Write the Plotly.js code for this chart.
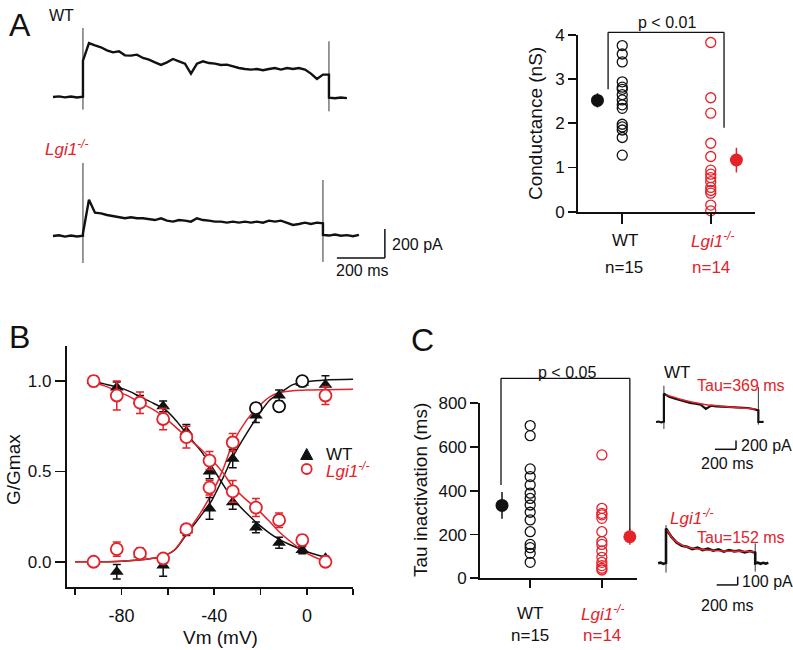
<!DOCTYPE html>
<html>
<head>
<meta charset="utf-8">
<script src="https://cdn.plot.ly/plotly-3.0.1.min.js"></script>
<style>
  html, body { margin: 0; padding: 0; background: #fff; }
  #chart { width: 793px; height: 650px; }
</style>
</head>
<body>
<div id="chart"></div>
<script>
// ---- Panel A: example currents (pA), response sampled every 25 ms ----
const aDt = 25;
const aWtOn = 179;
const aWtPre = [0, 4, -3, 3, -4, 2];
const aWtResp = [250, 372, 356, 343, 322, 308, 315, 287, 285, 292, 269, 257, 239, 221, 239, 262, 246, 230, 161, 230,
                 246, 234, 230, 221, 223, 211, 200, 193, 189, 193, 184, 193, 200, 189, 200, 193, 200, 189, 161, 124, 154, 154];
const aWtPost = [-5, -9, -4, -8];
const aWtSpikeOn = [-87, 476];
const aWtSpikeOff = [-99, 384];

const aKoOn = 179;
const aKoPre = [0, 5, -4, 3, -3, 2];
const aKoResp = [18, 250, 161, 156, 145, 138, 133, 122, 129, 122, 122, 117, 110, 122, 106, 99, 110, 106, 99, 122,
                 110, 106, 99, 99, 92, 99, 92, 99, 92, 99, 92, 106, 99, 106, 92, 76, 83, 92, 83, 92, 88];
const aKoPost = [8, 3, 10, 2, 6, -2, 8];
const aKoSpikeOn = [-186, 503];
const aKoSpikeOff = [-179, 386];

// ---- Panel A: conductance (nS) ----
const groups = ['WT', 'Lgi1'];
const condWT = [3.76, 3.57, 3.39, 2.94, 2.82, 2.77, 2.65, 2.53, 2.42, 2.34, 1.98, 1.92, 1.85, 1.68, 1.28];
const condKO = [3.83, 2.58, 2.23, 1.55, 1.25, 0.94, 0.85, 0.77, 0.68, 0.55, 0.48, 0.42, 0.15, 0.02];
const condMean = [2.52, 1.17];
const condSem = [0.16, 0.28];

// ---- Panel B: G/Gmax vs Vm ----
const vm = [-92, -82, -72, -62, -52, -42, -32, -22, -12, -2, 8];
const wtInact = [1.0, 0.965, 0.89, 0.86, 0.72, 0.50, 0.33, 0.19, 0.105, 0.065, 0.02];
const wtInactErr = [0.02, 0.03, 0.03, 0.03, 0.04, 0.04, 0.04, 0.03, 0.03, 0.02, 0.01];
const koInact = [1.0, 0.92, 0.88, 0.79, 0.69, 0.56, 0.39, 0.30, 0.23, 0.12, 0.0];
const koInactErr = [0.03, 0.08, 0.06, 0.06, 0.06, 0.05, 0.06, 0.05, 0.04, 0.03, 0.01];
const wtAct = [0.0, -0.055, 0.04, -0.02, 0.175, 0.295, 0.57, 0.81, 0.92, 0.99, 0.98];
const wtActErr = [0.01, 0.04, 0.02, 0.06, 0.03, 0.06, 0.05, 0.04, 0.03, 0.02, 0.05];
const koAct = [0.0, 0.07, 0.046, 0.018, 0.18, 0.41, 0.66, 0.85, 0.86, 1.0, 0.92];
const koActErr = [0.01, 0.04, 0.03, 0.02, 0.02, 0.04, 0.05, 0.03, 0.02, 0.02, 0.05];

const fitVmAct = [-100, -80, -63, -57, -52, -46, -41, -36, -32, -26, -21, -16, -12, -6, 0, 8, 20];
const wtActFit = [0, 0.003, 0.028, 0.065, 0.15, 0.25, 0.34, 0.47, 0.58, 0.71, 0.81, 0.895, 0.93, 0.98, 0.996, 1.006, 1.01];
const koActFit = [0, 0.003, 0.028, 0.068, 0.157, 0.268, 0.378, 0.517, 0.655, 0.784, 0.858, 0.913, 0.935, 0.946, 0.95, 0.952, 0.954];
const fitVmInact = [-94, -87, -81, -76, -72, -66, -61, -56, -52, -46, -41, -36, -32, -26, -21, -16, -12, -6, 0, 8];
const wtInactFit = [1.0, 0.983, 0.965, 0.94, 0.913, 0.876, 0.84, 0.775, 0.71, 0.618, 0.526, 0.424, 0.35, 0.268, 0.208, 0.157, 0.124, 0.087, 0.055, 0.024];
const koInactFit = [1.0, 0.972, 0.94, 0.91, 0.88, 0.84, 0.793, 0.738, 0.692, 0.627, 0.563, 0.489, 0.415, 0.341, 0.286, 0.221, 0.166, 0.101, 0.046, 0.0];

// ---- Panel C: tau of inactivation (ms) ----
const tauWT = [698, 652, 500, 465, 427, 389, 365, 335, 302, 267, 213, 155, 140, 114, 73];
const tauKO = [564, 320, 297, 290, 274, 213, 168, 155, 125, 96, 73, 58, 46, 38];
const tauMean = [333, 190];
const tauSem = [61, 37];

// ---- Panel C: example currents, response every 50 ms ----
const cDt = 50;
const cBaseDt = 25;
const cWtOn = 180;
const cWtPre = [0, 10, -10, 5];
const cWtResp = [651, 580, 540, 505, 470, 440, 421, 398, 300, 375, 360, 355, 345, 345, 337, 322, 322, 299, 268];
const cWtPost = [0, -5, 4];
const cWtSpikeOn = [-161, 835];
const cWtSpikeOff = [-61, 805];
const cWtFitT = [202, 329, 456, 583, 710, 837, 964, 1059];
const cWtFit = [628, 529, 452, 398, 368, 337, 314, 299];

const cKoOn = 200;
const cKoPre = [0, 8, -8, 4];
const cKoResp = [420, 320, 252, 212, 200, 172, 188, 160, 176, 152, 168, 140, 160, 144, 152, 132, 148, 128];
const cKoPost = [0, 8, -6, 5, -4, 6];
const cKoSpikeOn = [-112, 460];
const cKoSpikeOff = [-100, 240];
const cKoFitT = [213, 270, 365, 460, 587, 746, 905, 1040];
const cKoFit = [400, 288, 212, 180, 160, 148, 144, 140];

// ---------------------------------------------------------------
const W = 793, H = 650;
const RED = '#e4222a';
const BLK = '#111';
const FONT = 'Liberation Sans, Arial, sans-serif';

function dx(p0, p1) { return [p0 / W, p1 / W]; }
function dy(p0, p1) { return [1 - p1 / H, 1 - p0 / H]; }
function frac(v, r) { return (v - r[0]) / (r[1] - r[0]); }

// stitch baseline / response / baseline into one sweep
function sweep(tOn, dtResp, dtBase, pre, resp, post) {
  const x = [], y = [];
  pre.forEach((v, i) => { x.push(tOn - (pre.length - 1 - i) * dtBase); y.push(v); });
  resp.forEach((v, i) => { x.push(tOn + i * dtResp); y.push(v); });
  const tOff = tOn + (resp.length - 1) * dtResp;
  post.forEach((v, i) => { x.push(tOff + i * dtBase); y.push(v); });
  return { x, y, tOff };
}

const traces = [];
function addSweep(s, tOn, spOn, spOff, ax, width) {
  const xa = 'x' + ax, ya = 'y' + ax;
  traces.push({ x: [tOn, tOn], y: spOn, xaxis: xa, yaxis: ya, mode: 'lines', line: { color: '#333', width: 1 } });
  traces.push({ x: [s.tOff, s.tOff], y: spOff, xaxis: xa, yaxis: ya, mode: 'lines', line: { color: '#333', width: 1 } });
  traces.push({ x: s.x, y: s.y, xaxis: xa, yaxis: ya, mode: 'lines', line: { color: BLK, width: width } });
}

const aWt = sweep(aWtOn, aDt, aDt, aWtPre, aWtResp, aWtPost);
const aKo = sweep(aKoOn, aDt, aDt, aKoPre, aKoResp, aKoPost);
addSweep(aWt, aWtOn, aWtSpikeOn, aWtSpikeOff, '', 2.4);
addSweep(aKo, aKoOn, aKoSpikeOn, aKoSpikeOff, '2', 2.4);

// conductance scatter (x3/y3)
traces.push({ x: condWT.map(() => 1), y: condWT, xaxis: 'x3', yaxis: 'y3', mode: 'markers', cliponaxis: false,
  marker: { symbol: 'circle-open', size: 10, color: BLK, line: { width: 1.3 } } });
traces.push({ x: condKO.map(() => 2), y: condKO, xaxis: 'x3', yaxis: 'y3', mode: 'markers', cliponaxis: false,
  marker: { symbol: 'circle-open', size: 10, color: RED, line: { width: 1.3 } } });
traces.push({ x: [0.72], y: [condMean[0]], xaxis: 'x3', yaxis: 'y3', mode: 'markers',
  error_y: { type: 'data', array: [condSem[0]], width: 0, thickness: 1.5, color: BLK },
  marker: { size: 13, color: BLK } });
traces.push({ x: [2.29], y: [condMean[1]], xaxis: 'x3', yaxis: 'y3', mode: 'markers',
  error_y: { type: 'data', array: [condSem[1]], width: 0, thickness: 1.5, color: RED },
  marker: { size: 13, color: RED } });

// panel B (x4/y4)
const fitLine = (x, y, c) => ({ x, y, xaxis: 'x4', yaxis: 'y4', mode: 'lines',
  line: { color: c, width: 1.5, shape: 'spline', smoothing: 0.8 } });
traces.push(fitLine(fitVmAct, wtActFit, BLK));
traces.push(fitLine(fitVmInact, wtInactFit, BLK));
traces.push(fitLine(fitVmAct, koActFit, RED));
traces.push(fitLine(fitVmInact, koInactFit, RED));

const triTrace = (y, err) => ({ x: vm, y, xaxis: 'x4', yaxis: 'y4', mode: 'markers', cliponaxis: false,
  error_y: { type: 'data', array: err, width: 4, thickness: 1.5, color: BLK },
  marker: { symbol: 'triangle-up', size: 12, color: BLK } });
traces.push(triTrace(wtInact, wtInactErr));
traces.push(triTrace(wtAct, wtActErr));

// three of the Lgi1 activation points are drawn in black in the source
const koActColors = vm.map((v, i) => (i >= 7 && i <= 9) ? BLK : RED);
traces.push({ x: vm, y: koInact, xaxis: 'x4', yaxis: 'y4', mode: 'markers', cliponaxis: false,
  error_y: { type: 'data', array: koInactErr, width: 4, thickness: 1.5, color: RED },
  marker: { symbol: 'circle', size: 12, color: 'white', line: { color: RED, width: 1.8 } } });
traces.push({ x: vm, y: koAct, xaxis: 'x4', yaxis: 'y4', mode: 'markers', cliponaxis: false,
  error_y: { type: 'data', array: koActErr, width: 4, thickness: 1.5, color: RED },
  marker: { symbol: 'circle', size: 12, color: 'white', line: { color: koActColors, width: 1.8 } } });

// tau scatter (x5/y5)
traces.push({ x: tauWT.map(() => 1), y: tauWT, xaxis: 'x5', yaxis: 'y5', mode: 'markers', cliponaxis: false,
  marker: { symbol: 'circle-open', size: 10, color: BLK, line: { width: 1.3 } } });
traces.push({ x: tauKO.map(() => 2), y: tauKO, xaxis: 'x5', yaxis: 'y5', mode: 'markers', cliponaxis: false,
  marker: { symbol: 'circle-open', size: 10, color: RED, line: { width: 1.3 } } });
traces.push({ x: [0.607], y: [tauMean[0]], xaxis: 'x5', yaxis: 'y5', mode: 'markers',
  error_y: { type: 'data', array: [tauSem[0]], width: 0, thickness: 1.5, color: BLK },
  marker: { size: 13, color: BLK } });
traces.push({ x: [2.39], y: [tauMean[1]], xaxis: 'x5', yaxis: 'y5', mode: 'markers',
  error_y: { type: 'data', array: [tauSem[1]], width: 0, thickness: 1.5, color: RED },
  marker: { size: 13, color: RED } });

// panel C sweeps (x6/y6, x7/y7)
const cWt = sweep(cWtOn, cDt, cBaseDt, cWtPre, cWtResp, cWtPost);
const cKo = sweep(cKoOn, cDt, cBaseDt, cKoPre, cKoResp, cKoPost);
addSweep(cWt, cWtOn, cWtSpikeOn, cWtSpikeOff, '6', 2.2);
addSweep(cKo, cKoOn, cKoSpikeOn, cKoSpikeOff, '7', 2.6);
traces.push({ x: cWtFitT, y: cWtFit, xaxis: 'x6', yaxis: 'y6', mode: 'lines', line: { color: RED, width: 1.5, shape: 'spline' } });
traces.push({ x: cKoFitT, y: cKoFit, xaxis: 'x7', yaxis: 'y7', mode: 'lines', line: { color: RED, width: 1.5, shape: 'spline' } });

// ---------------------------------------------------------------
const hidden = (dom, range, anchor) => ({ domain: dom, range, anchor, visible: false, fixedrange: true });
const shownAxis = (extra) => Object.assign({
  showline: true, linewidth: 1.8, linecolor: BLK, ticks: 'outside', tickwidth: 1.8, tickcolor: BLK,
  showgrid: false, zeroline: false, tickfont: { family: FONT, size: 17, color: BLK }
}, extra);

const rA = [0, 1500], rAwt = [-228, 531], rAko = [-269, 593];
const rCondX = [0.5, 2.5], rCondY = [0, 4];
const rTauX = [0.3, 2.49], rTauY = [0, 800];
const rC = [0, 1286], rCwt = [-759, 1080], rCko = [-322, 582];

const layout = {
  width: W, height: H,
  margin: { l: 0, r: 0, t: 0, b: 0 },
  paper_bgcolor: 'white', plot_bgcolor: 'rgba(0,0,0,0)',
  showlegend: false,
  font: { family: FONT, color: BLK },
  xaxis: hidden(dx(40, 400), rA, 'y'),
  yaxis: hidden(dy(20, 130), rAwt, 'x'),
  xaxis2: hidden(dx(40, 400), rA, 'y2'),
  yaxis2: hidden(dy(150, 275), rAko, 'x2'),
  xaxis3: shownAxis({ domain: dx(578, 755), range: rCondX, anchor: 'y3', tickvals: [1, 2], ticklen: 10, showticklabels: false }),
  yaxis3: shownAxis({ domain: dy(35, 211.7), range: rCondY, anchor: 'x3', tickvals: [0, 1, 2, 3, 4], ticklen: 8 }),
  xaxis4: shownAxis({ domain: dx(66.7, 353.3), range: [-103.6, 20], anchor: 'y4',
    tickvals: [-80, -40, 0], ticktext: ['-80', '-40', '0'],
    ticklen: 6, ticklabelstandoff: 6, tickfont: { family: FONT, size: 18, color: BLK },
    minor: { tickvals: [-100, -60, -20, 20], ticks: 'outside', ticklen: 6, tickwidth: 1.8, tickcolor: BLK, showgrid: false } }),
  yaxis4: shownAxis({ domain: dy(346, 586.7), range: [-0.138, 1.194], anchor: 'x4',
    tickvals: [0, 0.5, 1], ticktext: ['0.0', '0.5', '1.0'], ticklen: 10 }),
  xaxis5: shownAxis({ domain: dx(480, 637), range: rTauX, anchor: 'y5', tickvals: [1, 2], ticklen: 8, showticklabels: false }),
  yaxis5: shownAxis({ domain: dy(403.3, 578.3), range: rTauY, anchor: 'x5', tickvals: [0, 200, 400, 600, 800], ticklen: 8 }),
  xaxis6: hidden(dx(645, 780), rC, 'y6'),
  yaxis6: hidden(dy(375, 455), rCwt, 'x6'),
  xaxis7: hidden(dx(645, 780), rC, 'y7'),
  yaxis7: hidden(dy(515, 590), rCko, 'x7'),
  shapes: [],
  annotations: []
};

// scale bars (data units of each sweep's axes)
function scaleBar(ax, t0, i0, tLen, iLen) {
  const line = { color: BLK, width: 1.5 };
  layout.shapes.push({ type: 'line', xref: 'x' + ax, yref: 'y' + ax, x0: t0, x1: t0 + tLen, y0: i0, y1: i0, line });
  layout.shapes.push({ type: 'line', xref: 'x' + ax, yref: 'y' + ax, x0: t0 + tLen, x1: t0 + tLen, y0: i0, y1: i0 + iLen, line });
}
scaleBar('2', 1237, -152, 200, 200);
scaleBar('6', 667, -628, 200, 200);
scaleBar('7', 683, -261, 200, 100);

// significance brackets, drawn in axis-domain units so they may rise above the axis
function bracket(ax, rx, ry, xl, yl, top, xr, yr) {
  const line = { color: BLK, width: 1.3 };
  const xref = 'x' + ax + ' domain', yref = 'y' + ax + ' domain';
  const X = v => frac(v, rx), Y = v => frac(v, ry);
  layout.shapes.push({ type: 'line', xref, yref, x0: X(xl), x1: X(xl), y0: Y(yl), y1: Y(top), line });
  layout.shapes.push({ type: 'line', xref, yref, x0: X(xl), x1: X(xr), y0: Y(top), y1: Y(top), line });
  layout.shapes.push({ type: 'line', xref, yref, x0: X(xr), x1: X(xr), y0: Y(top), y1: Y(yr), line });
}
bracket('3', rCondX, rCondY, 0.84, 2.77, 4.06, 2.15, 1.9);
bracket('5', rTauX, rTauY, 0.593, 427, 914, 2.39, 221);

// legend markers for panel B
layout.shapes.push({ type: 'path', xref: 'paper', yref: 'paper', fillcolor: BLK, line: { color: BLK, width: 1 },
  path: `M ${300.7 / W},${1 - 459.5 / H} L ${312.7 / W},${1 - 459.5 / H} L ${306.7 / W},${1 - 448.5 / H} Z` });
layout.shapes.push({ type: 'circle', xref: 'paper', yref: 'paper', line: { color: RED, width: 1.8 },
  x0: 301.7 / W, x1: 311.7 / W, y0: 1 - 474 / H, y1: 1 - 464 / H });

function note(text, px, py, o) {
  o = o || {};
  layout.annotations.push({
    text, x: px / W, y: 1 - py / H, xref: 'paper', yref: 'paper', showarrow: false,
    xanchor: o.xanchor || 'center', yanchor: 'middle', textangle: o.angle || 0,
    font: { family: FONT, size: o.size || 16, color: o.color || BLK }
  });
}
const KO = '<i>Lgi1<sup>-/-</sup></i>';

// panel A
note('A', 7, 25, { xanchor: 'left', size: 32 });
note('WT', 47, 15, { xanchor: 'left', size: 16 });
note(KO, 43, 148, { xanchor: 'left', size: 17, color: RED });
note('200 pA', 390, 244, { xanchor: 'left' });
note('200 ms', 362, 270);
note('Conductance (nS)', 535, 124, { angle: -90, size: 19 });
note('p < 0.01', 667, 23);
note('WT', 625, 240, { size: 17 });
note('n=15', 624, 267, { size: 17 });
note(KO, 712, 240, { size: 17, color: RED });
note('n=14', 711, 267, { size: 17, color: RED });

// panel B
note('B', 7, 337, { xanchor: 'left', size: 32 });
note('G/Gmax', 13, 470, { angle: -90, size: 19 });
note('Vm (mV)', 220, 637, { size: 19 });
note('WT', 324, 454, { xanchor: 'left', size: 17 });
note(KO, 324, 470, { xanchor: 'left', size: 17, color: RED });

// panel C
note('C', 409, 340, { xanchor: 'left', size: 32 });
note('p < 0.05', 567, 372);
note('Tau inactivation (ms)', 420, 490, { angle: -90, size: 19 });
note('WT', 530, 613, { size: 17 });
note('n=15', 530, 635, { size: 17 });
note(KO, 602, 613, { size: 17, color: RED });
note('n=14', 602, 635, { size: 17, color: RED });

note('WT', 662, 372, { xanchor: 'left', size: 17 });
note('Tau=369 ms', 695, 386, { xanchor: 'left', color: RED });
note('200 pA', 739, 445, { xanchor: 'left' });
note('200 ms', 727, 463);
note(KO, 668, 517, { xanchor: 'left', size: 17, color: RED });
note('Tau=152 ms', 695, 537, { xanchor: 'left', color: RED });
note('100 pA', 740, 581, { xanchor: 'left' });
note('200 ms', 727, 605);

Plotly.newPlot('chart', traces, layout, { staticPlot: true, displayModeBar: false });
</script>
</body>
</html>
